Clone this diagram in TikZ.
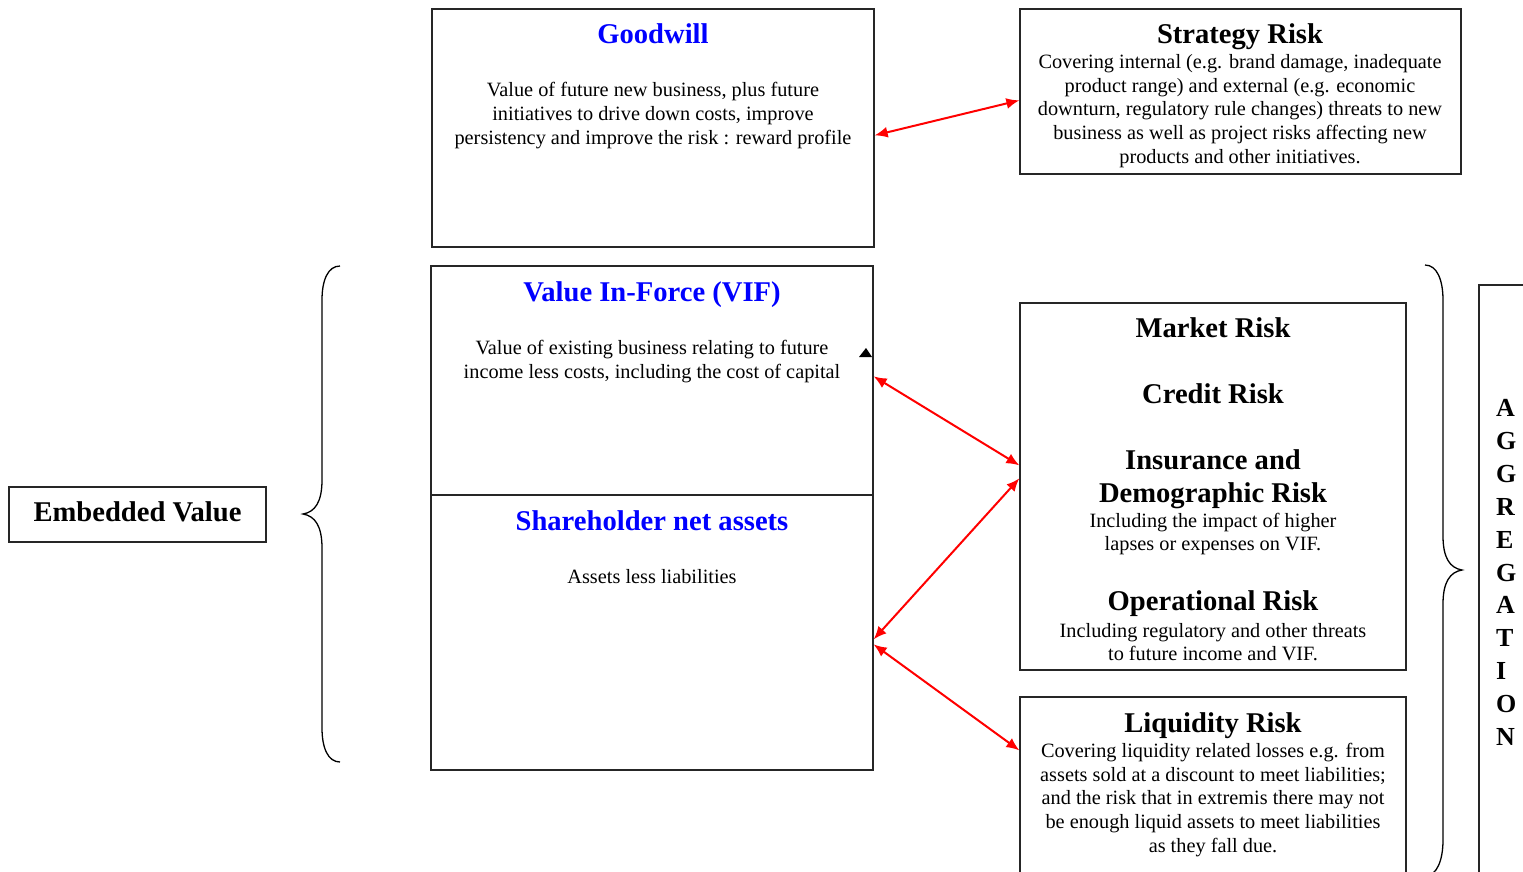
\documentclass[tikz,border=0pt]{standalone}
\usepackage{fontspec}
\setmainfont{Liberation Serif}
\usetikzlibrary{arrows.meta,calc}
\begin{document}
\begin{tikzpicture}[x=1pt,y=-1pt,
  box/.style={draw=black!85,line width=1.3pt,rectangle,inner sep=0pt},
  ttl/.style={font=\fontsize{28.6}{33}\selectfont\bfseries,inner sep=0pt},
  btitle/.style={ttl,text=blue},
  body/.style={font=\fontsize{20.3}{23.6}\selectfont,align=center,inner sep=0pt},
  link/.style={red,line width=2pt,{Latex[length=13pt,width=11pt]}-{Latex[length=13pt,width=11pt]}},
  brace/.style={line width=1.3pt,black}]
\clip (0,0) rectangle (1523,871);
\fill[white] (0,0) rectangle (1523,871);

% boxes
\node[box,minimum width=442,minimum height=238] (gw) at (653,128) {};
\node[box,minimum width=441,minimum height=165] (sr) at (1240.5,91.5) {};
\node[box,minimum width=442,minimum height=229] (vif) at (652,380.5) {};
\node[box,minimum width=442,minimum height=275] (sna) at (652,632.5) {};
\node[box,minimum width=386,minimum height=367] (mk) at (1213,486.5) {};
\node[box,minimum width=386,minimum height=203] (lq) at (1213,798.5) {};
\node[box,minimum width=81,minimum height=615] (agg) at (1519.5,592.5) {};
\node[box,minimum width=257,minimum height=55] (ev) at (137.5,514.5) {};
\node[ttl] (evt) at (137.5,512) {Embedded Value};

% goodwill
\node[btitle] (gwt) at (653,34) {Goodwill};
\node[body] (gwb) at (653,115.5) {Value of future new business, plus future\\initiatives to drive down costs, improve\\persistency and improve the risk : reward profile};

% strategy risk
\node[ttl] (srt) at (1240,37) {Strategy Risk};
\node[body] (srb) at (1240,111) {Covering internal (e.g. brand damage, inadequate\\product range) and external (e.g. economic\\downturn, regulatory rule changes) threats to new\\business as well as project risks affecting new\\products and other initiatives.};

% value in-force
\node[btitle] (vift) at (652,295) {Value In-Force (VIF)};
\node[body] (vifb) at (652,361.5) {Value of existing business relating to future\\income less costs, including the cost of capital};

% shareholder net assets
\node[btitle] (snat) at (652,521) {Shareholder net assets};
\node[body] (snab) at (652,576.5) {Assets less liabilities};

% market, credit, insurance, operational
\node[ttl] (mkt) at (1213,328) {Market Risk};
\node[ttl] (crt) at (1213,394) {Credit Risk};
\node[ttl] (ins1) at (1213,460) {Insurance and};
\node[ttl] (ins2) at (1213,496) {Demographic Risk};
\node[body] (insb) at (1213,534) {Including the impact of higher\\lapses or expenses on VIF.};
\node[ttl] (opt) at (1213,604) {Operational Risk};
\node[body] (opb) at (1213,642) {Including regulatory and other threats\\to future income and VIF.};

% liquidity
\node[ttl] (lqt) at (1213,726) {Liquidity Risk};
\node[body] (lqb) at (1213,800) {Covering liquidity related losses e.g. from\\assets sold at a discount to meet liabilities;\\and the risk that in extremis there may not\\be enough liquid assets to meet liabilities\\as they fall due.};

% aggregation
\node[font=\fontsize{26}{32.9}\selectfont\bfseries,align=left,inner sep=0pt,anchor=west] (aggt) at (1496,572.5) {A\\G\\G\\R\\E\\G\\A\\T\\I\\O\\N};

% braces
\draw[brace] (340,266) .. controls (328,266) and (322,280) .. (322,300) -- (322,480)
  .. controls (322,502) and (315,512) .. (303,514)
  .. controls (315,516) and (322,526) .. (322,548) -- (322,728)
  .. controls (322,748) and (328,762) .. (340,762);
\draw[brace] (1425,265) .. controls (1437,265) and (1443,280) .. (1443,300) -- (1443,536)
  .. controls (1443,558) and (1450,568) .. (1462,570)
  .. controls (1450,572) and (1443,582) .. (1443,604) -- (1443,840)
  .. controls (1443,860) and (1437,876) .. (1425,876);

% stray marker
\fill (859,357) -- (872,357) -- (866,348) -- cycle;

% links
\draw[link] ($(gw.north east)+(0,127)$) -- ($(sr.north west)+(0,92)$);
\draw[link] ($(vif.north east)+(0,111)$) -- ($(mk.north west)+(0,163)$);
\draw[link] ($(sna.north east)+(0,145)$) -- ($(mk.north west)+(0,176)$);
\draw[link] ($(sna.north east)+(0,150)$) -- ($(lq.north west)+(0,54)$);
\end{tikzpicture}
\end{document}
